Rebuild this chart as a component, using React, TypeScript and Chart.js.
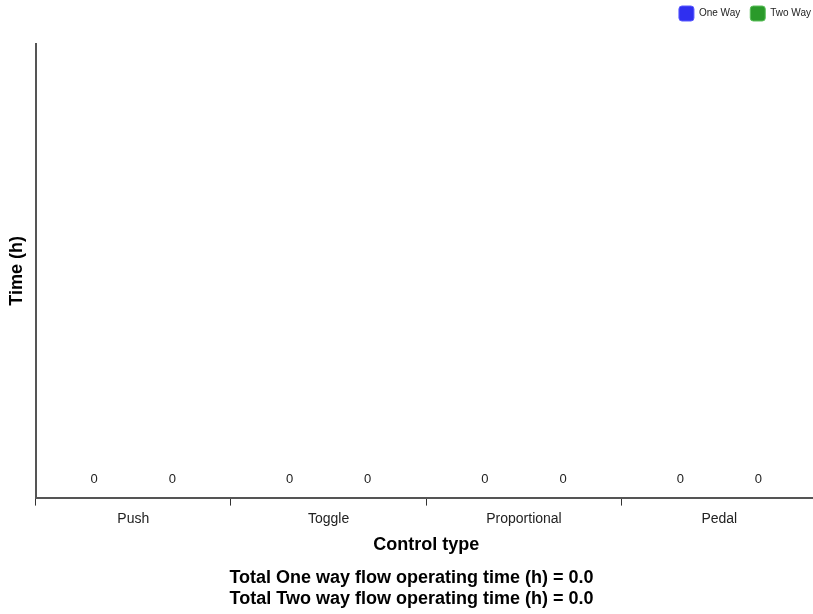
import React, { useEffect, useRef } from "react";
import { Chart, registerables } from "chart.js";

Chart.register(...registerables);

const categories = ["Push", "Toggle", "Proportional", "Pedal"];
const oneWayValues = [0, 0, 0, 0];
const twoWayValues = [0, 0, 0, 0];
const seriesNames = ["One Way", "Two Way"];
const footerLines = [
  "Total One way flow operating time (h) = 0.0",
  "Total Two way flow operating time (h) = 0.0",
];
const xTitle = "Control type";
const yTitle = "Time (h)";

const FONT = "'Liberation Sans', Arial, sans-serif";

const valueLabels = {
  id: "valueLabels",
  afterDatasetsDraw(chart: any) {
    const ctx = chart.ctx;
    ctx.save();
    ctx.font = `13px ${FONT}`;
    ctx.fillStyle = "#222";
    ctx.textAlign = "center";
    ctx.textBaseline = "bottom";
    chart.data.datasets.forEach((ds: any, i: number) => {
      const meta = chart.getDatasetMeta(i);
      meta.data.forEach((bar: any, j: number) => {
        ctx.fillText(String(ds.data[j]), bar.x, bar.y - 12);
      });
    });
    ctx.restore();
  },
};

const legendGap = {
  id: "legendGap",
  beforeInit(chart: any) {
    const legend = chart.legend;
    if (!legend) return;
    const origFit = legend.fit;
    legend.fit = function () {
      origFit.call(this);
      this.height += 13;
    };
  },
  afterLayout(chart: any) {
    const legend = chart.legend;
    if (!legend) return;
    legend.left += 4;
    legend.right += 4;
  },
};

export default function App() {
  const ref = useRef<HTMLCanvasElement>(null);
  useEffect(() => {
    const chart = new Chart(ref.current!, {
      type: "bar",
      data: {
        labels: categories,
        datasets: [
          {
            label: seriesNames[0],
            data: oneWayValues,
            backgroundColor: "#2f2ff0",
            borderColor: "#5a5aff",
            borderWidth: 1,
          },
          {
            label: seriesNames[1],
            data: twoWayValues,
            backgroundColor: "#2a9a2a",
            borderColor: "#5cc05c",
            borderWidth: 1,
          },
        ],
      },
      options: {
        responsive: false,
        animation: false,
        layout: { padding: { left: 6, right: 0, top: -4, bottom: 4 } },
        plugins: {
          legend: {
            position: "top",
            align: "end",
            labels: {
              boxWidth: 15,
              boxHeight: 15,
              padding: 10,
              useBorderRadius: true,
              borderRadius: 3,
              color: "#222",
              font: { family: FONT, size: 10 },
            },
          },
          title: {
            display: true,
            position: "bottom",
            text: footerLines,
            color: "#000",
            font: { family: FONT, size: 18, weight: "bold", lineHeight: 1.1667 },
            padding: { top: 8, bottom: 0 },
          },
          tooltip: { enabled: false },
        },
        scales: {
          x: {
            offset: true,
            grid: {
              display: true,
              drawOnChartArea: false,
              drawTicks: true,
              tickLength: 8,
              color: "#333",
            },
            border: { display: true, color: "#555", width: 2 },
            ticks: { color: "#222", font: { family: FONT, size: 14 }, padding: 5 },
            title: {
              display: true,
              text: xTitle,
              color: "#000",
              font: { family: FONT, size: 18, weight: "bold" },
              padding: { top: 2, bottom: 4 },
            },
          },
          y: {
            min: 0,
            max: 1,
            grid: { display: false },
            border: { display: true, color: "#555", width: 2 },
            ticks: { display: false },
            title: {
              display: true,
              text: yTitle,
              color: "#000",
              font: { family: FONT, size: 18, weight: "bold" },
              padding: { top: 0, bottom: 0 },
            },
          },
        },
      },
      plugins: [valueLabels, legendGap],
    });
    return () => chart.destroy();
  }, []);
  return (
    <div
      style={{
        position: "fixed",
        left: 0,
        top: 0,
        width: 813,
        height: 614,
        overflow: "hidden",
        background: "#fff",
      }}
    >
      <canvas ref={ref} width={817} height={614} />
    </div>
  );
}
